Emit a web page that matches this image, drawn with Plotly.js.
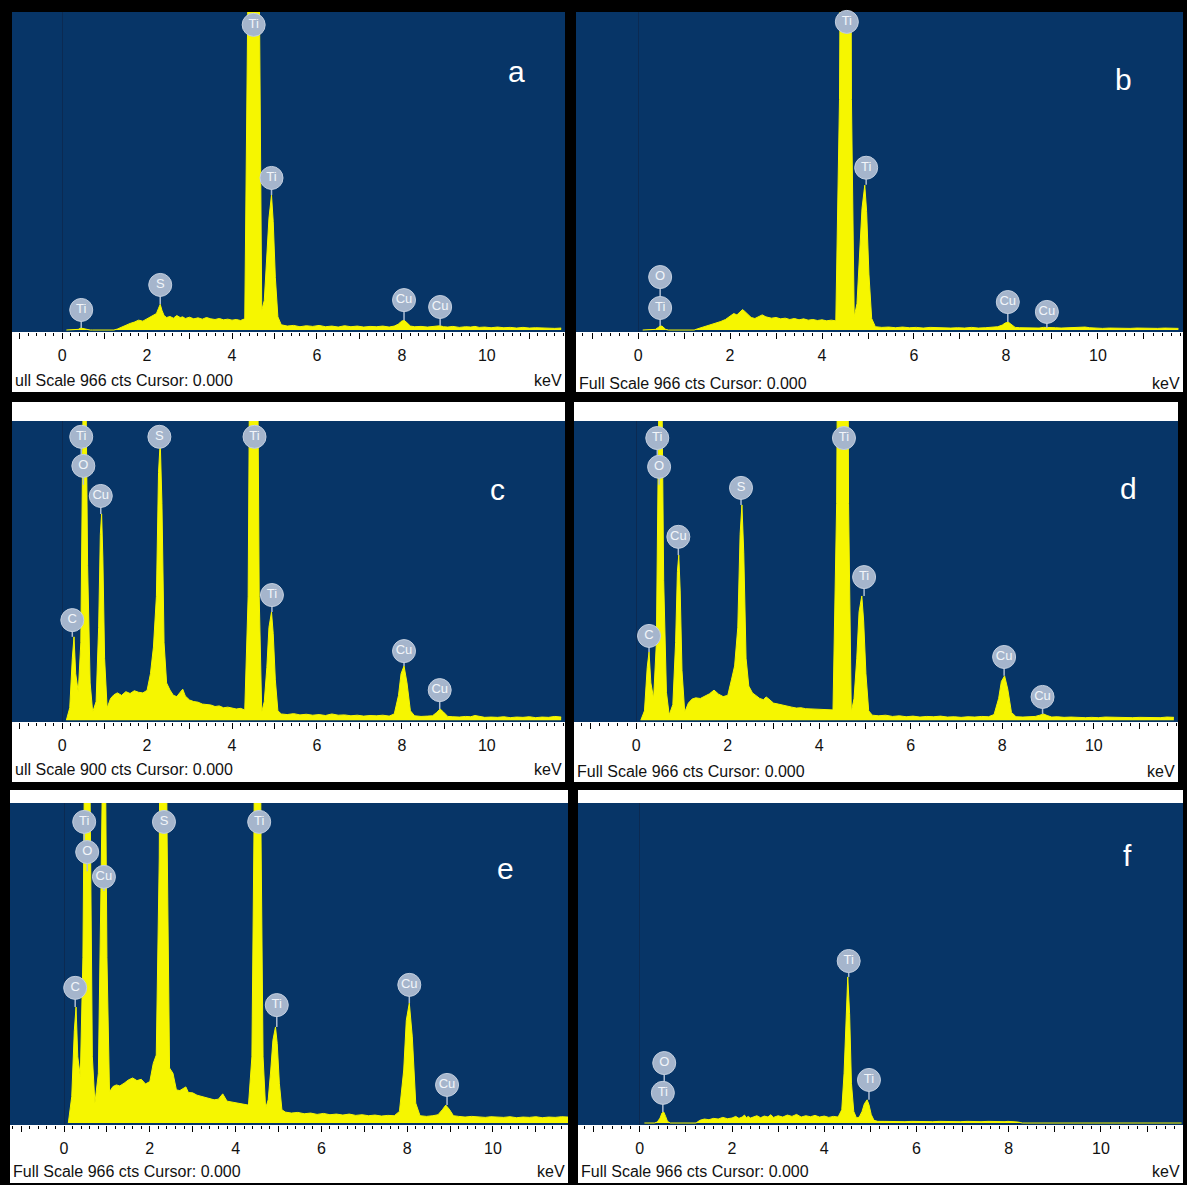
<!DOCTYPE html>
<html><head><meta charset="utf-8">
<script src="https://cdn.plot.ly/plotly-3.0.1.min.js"></script>
<style>html,body{margin:0;padding:0;background:#000;}#chart{width:1187px;height:1185px;}</style>
</head><body><div id="chart"></div>
<script>
// Energy grid (keV)
const energy = [
0.10,0.18,0.24,0.28,0.32,0.38,0.44,0.48,0.52,0.56,
0.60,0.66,0.72,0.80,0.86,0.90,0.93,0.96,1.00,1.06,
1.14,1.22,1.30,1.40,1.50,1.60,1.70,1.80,1.90,2.00,
2.08,2.15,2.22,2.27,2.31,2.35,2.40,2.46,2.54,2.62,
2.70,2.78,2.84,2.90,3.00,3.10,3.20,3.30,3.40,3.50,
3.60,3.70,3.80,3.90,4.00,4.10,4.20,4.30,4.38,4.43,
4.47,4.51,4.55,4.59,4.64,4.70,4.76,4.82,4.87,4.93,
4.97,5.02,5.08,5.16,5.30,5.45,5.60,5.75,5.90,6.05,
6.20,6.35,6.50,6.65,6.80,6.95,7.10,7.25,7.40,7.55,
7.70,7.82,7.92,7.98,8.05,8.12,8.20,8.30,8.45,8.60,
8.72,8.82,8.90,8.98,9.08,9.20,9.35,9.50,9.62,9.72,
9.82,9.95,10.10,10.25,10.40,10.55,10.70,10.85,11.00,11.15,
11.30,11.45,11.60,11.75];

// Counts per spectrum (cts)
const countsA = [
0,0,0,0,0,2,6,5,3,1,
0,0,0,0,0,0,0,0,0,0,
0,0,3,9,14,20,24,30,27,34,
40,44,50,66,78,60,44,38,41,36,
44,38,40,35,39,34,37,33,38,34,
32,35,31,33,30,32,29,34,1100,3000,
5000,5000,5000,3000,1100,60,90,210,340,410,
330,160,40,16,12,14,10,13,11,14,
10,12,9,13,10,12,9,11,10,12,
9,12,18,26,30,22,12,10,11,9,
10,11,13,10,9,11,8,10,9,11,
8,9,7,9,7,8,6,8,6,7,
6,7,5,6];
const countsB = [
0,0,0,0,0,2,8,12,12,6,
2,0,0,0,0,0,0,0,0,0,
0,0,4,8,12,16,22,26,32,42,
50,46,55,62,58,52,44,38,35,40,
46,40,38,36,38,34,36,32,35,31,
34,30,32,29,31,28,30,28,700,3000,
5000,5000,5000,3000,700,40,80,220,370,440,
360,170,35,10,8,9,7,9,7,8,
6,8,7,8,6,7,6,8,6,7,
8,10,15,21,24,17,8,7,6,7,
6,8,7,6,7,6,7,6,8,9,
7,6,5,6,5,6,5,6,5,6,
5,6,5,5];
const countsC = [
0,40,200,269,150,90,250,900,1400,1100,
500,120,26,60,300,600,666,520,200,39,
70,82,88,80,92,86,95,90,88,96,
150,236,400,800,900,700,250,120,97,80,
76,90,100,78,65,60,58,52,50,49,
44,46,40,42,39,36,38,33,400,1500,
3000,3500,3000,1500,400,26,60,170,300,349,
280,130,30,20,18,21,17,19,16,18,
15,20,16,17,14,16,13,15,14,16,
13,20,80,150,175,120,30,14,12,13,
14,25,36,26,12,11,10,12,11,15,
12,9,10,9,11,8,10,9,11,8,
10,9,12,10];
const countsD = [
0,30,170,220,120,70,250,900,1400,1100,
450,90,17,50,250,480,533,420,160,26,
55,68,72,70,78,85,97,84,76,80,
130,175,300,600,695,540,200,110,88,80,
70,66,75,68,55,52,48,45,42,39,
40,37,36,35,34,33,34,33,700,3000,
5000,5000,5000,3000,700,26,70,200,350,401,
320,150,30,16,14,16,12,14,11,13,
10,12,11,13,10,11,9,11,10,12,
11,18,70,125,143,100,25,11,10,11,
12,16,20,15,10,11,9,10,9,10,
8,9,8,10,9,8,9,8,9,8,
9,8,10,9];
const countsE = [
0,80,280,350,200,140,500,1300,1800,1500,
1100,200,60,150,700,1200,1400,1200,500,94,
110,115,112,120,130,136,128,132,118,125,
180,205,800,2000,2500,2000,900,166,150,100,
98,104,109,92,91,84,80,76,74,70,
72,88,66,64,60,58,56,54,200,900,
2000,2400,2000,900,200,45,70,160,250,290,
240,120,40,33,30,32,28,30,26,29,
25,27,24,27,23,25,22,24,21,23,
22,35,160,310,362,260,60,22,20,22,
25,40,54,42,22,20,18,20,19,18,
17,19,18,17,19,16,18,17,19,16,
18,17,19,18];
const countsF = [
0,0,0,0,0,3,15,30,33,20,
5,0,0,0,0,0,0,0,0,0,
0,0,8,12,10,14,12,17,13,15,
20,14,18,24,16,20,15,19,22,16,
21,18,25,17,22,18,24,20,26,18,
22,19,23,18,21,17,20,18,40,150,
330,441,330,120,35,15,18,35,58,70,
55,25,8,5,5,4,5,4,5,4,
5,4,5,4,5,4,5,4,4,5,
4,5,4,5,5,4,3,0,0,0,
0,0,0,0,0,0,0,0,0,0,
0,0,0,0,0,0,0,0,0,0,
0,0,0,0];

// Element labels: name, energy (keV), badge level (cts), stem end (cts)
const labelsA = ['Ti','S','Ti','Ti','Cu','Cu'];
const labelKevA = [0.45,2.31,4.51,4.93,8.05,8.90];
const labelCtsA = [61,137,927,462,91,70];
const labelTipA = [6,78,927,410,30,13];

const labelsB = ['O','Ti','Ti','Ti','Cu','Cu'];
const labelKevB = [0.48,0.48,4.54,4.96,8.04,8.89];
const labelCtsB = [161,67,936,493,85,55];
const labelTipB = [67,12,936,441,24,6];

const labelsC = ['Ti','O','C','Cu','S','Ti','Ti','Cu','Cu'];
const labelKevC = [0.45,0.50,0.24,0.91,2.29,4.53,4.94,8.05,8.89];
const labelCtsC = [915,821,323,724,915,915,404,223,97];
const labelTipC = [821,760,269,666,900,915,349,175,36];

const labelsD = ['Ti','O','C','Cu','S','Ti','Ti','Cu','Cu'];
const labelKevD = [0.46,0.50,0.28,0.92,2.29,4.54,4.98,8.04,8.88];
const labelCtsD = [911,818,272,592,750,911,462,204,75];
const labelTipD = [818,760,220,533,695,911,401,143,20];

const labelsE = ['Ti','O','Cu','C','S','Ti','Ti','Cu','Cu'];
const labelKevE = [0.47,0.54,0.93,0.26,2.33,4.55,4.96,8.05,8.93];
const labelCtsE = [909,818,743,408,909,909,356,417,115];
const labelTipE = [818,760,700,350,909,909,290,362,54];

const labelsF = ['O','Ti','Ti','Ti'];
const labelKevF = [0.53,0.50,4.53,4.97];
const labelCtsF = [181,91,489,130];
const labelTipF = [91,33,441,70];

const panelLetters = ['a','b','c','d','e','f'];
const footerTexts = ['ull Scale 966 cts Cursor: 0.000','Full Scale 966 cts Cursor: 0.000',
  'ull Scale 900 cts Cursor: 0.000','Full Scale 966 cts Cursor: 0.000',
  'Full Scale 966 cts Cursor: 0.000','Full Scale 966 cts Cursor: 0.000'];
const tickValues = [-1,0,1,2,3,4,5,6,7,8,9,10,11];
const tickTexts = ['','0','','2','','4','','6','','8','','10',''];

// ---------- layout geometry (pixels) ----------
const W = 1187, H = 1185;
const geo = [
 {l:12,  r:565,  t:12,  b:332,  wt:null, wb:392,  xr:[-1.18,11.84], let:[516,72],   foot:381},
 {l:576, r:1183, t:12,  b:332,  wt:null, wb:392,  xr:[-1.35,11.85], let:[1123,80],  foot:383},
 {l:12,  r:565,  t:421, b:722,  wt:402,  wb:782,  xr:[-1.18,11.84], let:[498,489],  foot:770},
 {l:574, r:1178, t:421, b:722,  wt:402,  wb:782,  xr:[-1.36,11.84], let:[1128,488], foot:771},
 {l:10,  r:568,  t:803, b:1125, wt:790,  wb:1183, xr:[-1.26,11.75], let:[506,869],  foot:1171},
 {l:578, r:1183, t:803, b:1125, wt:790,  wb:1183, xr:[-1.34,11.78], let:[1127,855], foot:1171}
];
const X = p => p / W;
const Y = p => 1 - p / H;

const counts = [countsA,countsB,countsC,countsD,countsE,countsF];
const labels = [labelsA,labelsB,labelsC,labelsD,labelsE,labelsF];
const labKev = [labelKevA,labelKevB,labelKevC,labelKevD,labelKevE,labelKevF];
const labCts = [labelCtsA,labelCtsB,labelCtsC,labelCtsD,labelCtsE,labelCtsF];
const labTip = [labelTipA,labelTipB,labelTipC,labelTipD,labelTipE,labelTipF];

const YELLOW = '#f6f600';
const FONT = 'Liberation Sans, Arial, sans-serif';
const traces = [];
const layout = {
  width: W, height: H, margin:{l:0,r:0,t:0,b:0},
  paper_bgcolor:'#000000', plot_bgcolor:'#073567',
  showlegend:false, shapes:[], annotations:[]
};

geo.forEach((g, i) => {
  const n = i === 0 ? '' : String(i+1);
  const xa = 'x' + n, ya = 'y' + n;
  traces.push({
    x: energy, y: counts[i], xaxis: xa, yaxis: ya, type:'scatter', mode:'lines',
    line:{color:YELLOW, width:1}, fill:'tozeroy', fillcolor:YELLOW, hoverinfo:'skip'
  });
  const sx = [], sy = [];
  labKev[i].forEach((k, j) => { sx.push(k, k, null); sy.push(labCts[i][j], labTip[i][j], null); });
  traces.push({
    x: sx, y: sy, xaxis: xa, yaxis: ya, type:'scatter', mode:'lines',
    line:{color:'#adbdd3', width:1.5}, hoverinfo:'skip', cliponaxis:false
  });
  traces.push({
    x: labKev[i], y: labCts[i], xaxis: xa, yaxis: ya, type:'scatter', mode:'markers+text',
    text: labels[i], textposition:'middle center',
    textfont:{color:'#f2f5fa', size:13, family:FONT},
    marker:{size:23, color:'#a5b5cc', line:{color:'#c3cfdf', width:1}},
    hoverinfo:'skip', cliponaxis:false
  });
  layout['xaxis' + n] = {
    domain:[X(g.l), X(g.r)], range:g.xr, anchor:ya,
    showgrid:false, zeroline:true, zerolinecolor:'#0b2a52', zerolinewidth:1,
    showline:false, ticks:'outside', ticklen:6, tickwidth:1, tickcolor:'#000',
    tickmode:'array', tickvals:tickValues, ticktext:tickTexts,
    ticklabelstandoff:3,
    tickfont:{family:FONT, size:16, color:'#111'},
    minor:{dtick:0.2, ticks:'outside', ticklen:3, tickwidth:1, tickcolor:'#000', showgrid:false},
    fixedrange:true
  };
  layout['yaxis' + n] = {
    domain:[Y(g.b), Y(g.t)], range:[-6, 966], anchor:xa,
    visible:false, fixedrange:true
  };
  layout.shapes.push({type:'rect', xref:'paper', yref:'paper', layer:'below',
    x0:X(g.l), x1:X(g.r), y0:Y(g.wb), y1:Y(g.b), fillcolor:'#ffffff', line:{width:0}});
  if (g.wt !== null) {
    layout.shapes.push({type:'rect', xref:'paper', yref:'paper', layer:'below',
      x0:X(g.l), x1:X(g.r), y0:Y(g.t), y1:Y(g.wt), fillcolor:'#ffffff', line:{width:0}});
  }
  layout.annotations.push({xref:'paper', yref:'paper', x:X(g.let[0]), y:Y(g.let[1]),
    text:panelLetters[i], showarrow:false, xanchor:'center', yanchor:'middle',
    font:{family:FONT, size:30, color:'#ffffff'}});
  layout.annotations.push({xref:'paper', yref:'paper', x:X(g.l + 1), y:Y(g.foot),
    text:footerTexts[i], showarrow:false, xanchor:'left', yanchor:'middle',
    font:{family:FONT, size:16, color:'#111'}});
  layout.annotations.push({xref:'paper', yref:'paper', x:X(g.r - 1), y:Y(g.foot),
    text:'keV', showarrow:false, xanchor:'right', yanchor:'middle',
    font:{family:FONT, size:16, color:'#111'}});
});

Plotly.newPlot('chart', traces, layout, {staticPlot:true, displayModeBar:false});
</script>
</body></html>
